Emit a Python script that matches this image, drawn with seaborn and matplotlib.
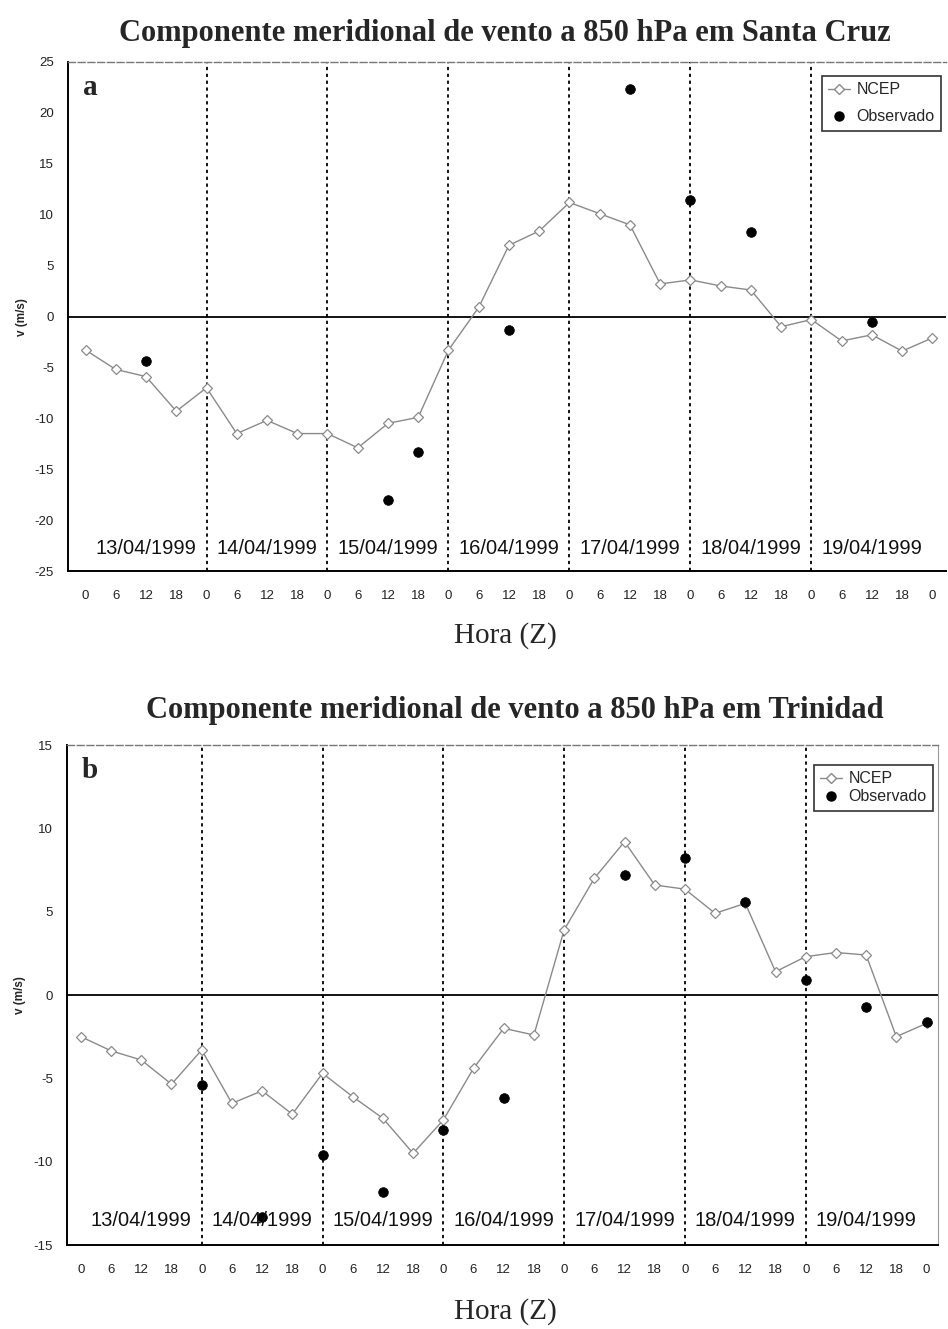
import numpy as np
import pandas as pd
import matplotlib
matplotlib.use("Agg")
import matplotlib.pyplot as plt
import seaborn as sns
from matplotlib.lines import Line2D

# ---------------- data ----------------
hour_labels = ['0', '6', '12', '18'] * 7 + ['0']
day_labels = ['13/04/1999', '14/04/1999', '15/04/1999', '16/04/1999',
              '17/04/1999', '18/04/1999', '19/04/1999']

ncep_sc = [-3.3, -5.2, -5.9, -9.3, -7.0, -11.5, -10.2, -11.5, -11.5, -12.9,
           -10.5, -9.9, -3.3, 0.9, 7.0, 8.4, 11.2, 10.1, 9.0, 3.2,
           3.6, 3.0, 2.6, -1.0, -0.3, -2.4, -1.8, -3.4, -2.1]
obs_sc = [np.nan, np.nan, -4.4, np.nan, np.nan, np.nan, np.nan, np.nan, np.nan, np.nan,
          -18.0, -13.3, np.nan, np.nan, -1.3, np.nan, np.nan, np.nan, 22.3, np.nan,
          11.4, np.nan, 8.3, np.nan, np.nan, np.nan, -0.5, np.nan, np.nan]

ncep_tr = [-2.5, -3.35, -3.9, -5.35, -3.3, -6.5, -5.75, -7.15, -4.7, -6.1,
           -7.4, -9.5, -7.5, -4.4, -2.0, -2.4, 3.9, 7.0, 9.2, 6.6,
           6.35, 4.9, 5.5, 1.4, 2.3, 2.55, 2.4, -2.5, -1.7]
obs_tr = [np.nan, np.nan, np.nan, np.nan, -5.4, np.nan, -13.3, np.nan, -9.6, np.nan,
          -11.8, np.nan, -8.1, np.nan, -6.2, np.nan, np.nan, np.nan, 7.2, np.nan,
          8.25, np.nan, 5.6, np.nan, 0.9, np.nan, -0.7, np.nan, -1.6]

titles = ['Componente meridional de vento a 850 hPa em Santa Cruz',
          'Componente meridional de vento a 850 hPa em Trinidad']
letters = ['a', 'b']

# ---------------- style ----------------
sns.set_theme(style="white")
plt.rcParams['font.family'] = ['Liberation Sans', 'DejaVu Sans']

fig = plt.figure(figsize=(9.48, 13.29), dpi=100)
W, H = 948, 1329


def px_axes(l, t, r, b):
    return fig.add_axes([l / W, 1 - b / H, (r - l) / W, (b - t) / H])


ax_a = px_axes(68, 62, 946, 571)
ax_b = px_axes(67, 745, 938, 1245)

panels = [
    dict(ax=ax_a, ncep=ncep_sc, obs=obs_sc, ylim=(-25, 25), xlim=(-0.58, 28.45),
         date_y=-22.8, title_xy=(505, 34), hora_y=636, ylab_xy=(22, 317),
         leg_anchor=(1.0, 0.982), leg_spacing=0.75, right_spine=False),
    dict(ax=ax_b, ncep=ncep_tr, obs=obs_tr, ylim=(-15, 15), xlim=(-0.46, 28.38),
         date_y=-13.5, title_xy=(515, 710), hora_y=1312, ylab_xy=(20, 995),
         leg_anchor=(1.0, 0.97), leg_spacing=0.2, right_spine=True),
]

for i, p in enumerate(panels):
    ax = p['ax']
    x = np.arange(len(hour_labels))
    df = pd.DataFrame({'x': x, 'NCEP': p['ncep'], 'Observado': p['obs']})

    # vertical day separators and zero line
    for d in range(4, len(hour_labels) - 1, 4):
        ax.axvline(d, color='black', lw=1.3, ls=(0, (1.8, 2.0)), zorder=1)
    ax.axhline(0, color='black', lw=1.3, zorder=1)

    sns.lineplot(data=df, x='x', y='NCEP', ax=ax, color='#8a8a8a', lw=1.0,
                 marker='D', markersize=5, markerfacecolor='white',
                 markeredgecolor='#8a8a8a', markeredgewidth=0.9, zorder=3,
                 legend=False)
    sns.scatterplot(data=df, x='x', y='Observado', ax=ax, color='black', s=48,
                    edgecolor='black', zorder=4, legend=False)

    ax.set_xlim(*p['xlim'])
    ax.set_ylim(*p['ylim'])
    ax.set_xticks(x)
    ax.set_xticklabels(hour_labels, fontsize=9.5, color='#222222')
    yt = np.arange(p['ylim'][0], p['ylim'][1] + 1, 5)
    ax.set_yticks(yt)
    ax.set_yticklabels([str(v) for v in yt], fontsize=9.5, color='#222222')
    ax.tick_params(axis='x', direction='in', length=3, pad=14, width=0.8)
    ax.tick_params(axis='y', direction='in', length=3, pad=10, width=0.8)
    ax.set_xlabel('')
    ax.set_ylabel('')

    for s in ['left', 'bottom']:
        ax.spines[s].set_color('black')
        ax.spines[s].set_linewidth(1.4)
    ax.spines['top'].set_color('#777777')
    ax.spines['top'].set_linewidth(1.0)
    ax.spines['top'].set_linestyle((0, (5, 2)))
    if p['right_spine']:
        ax.spines['right'].set_color('#999999')
        ax.spines['right'].set_linewidth(0.8)
    else:
        ax.spines['right'].set_visible(False)

    # day labels
    for k, lab in enumerate(day_labels):
        ax.text(2 + 4 * k, p['date_y'], lab, ha='center', va='center',
                fontsize=14.5, color='#111111', zorder=5)

    # panel letter
    ax.text(0.017, 0.95, letters[i], transform=ax.transAxes, ha='left',
            va='center', fontsize=21, fontweight='bold',
            family=['Liberation Serif'])

    # legend
    handles = [
        Line2D([], [], color='#8a8a8a', lw=1.0, marker='D', markersize=5,
               markerfacecolor='white', markeredgecolor='#8a8a8a'),
        Line2D([], [], color='black', lw=0, marker='o', markersize=6.5),
    ]
    leg = ax.legend(handles, ['NCEP', 'Observado'], loc='upper right',
                    bbox_to_anchor=p['leg_anchor'], fontsize=11.5,
                    frameon=True, fancybox=False, edgecolor='black',
                    handlelength=1.4, handletextpad=0.4, borderpad=0.4,
                    labelspacing=p['leg_spacing'], borderaxespad=0.3)
    leg.get_frame().set_linewidth(1.2)

    # titles and labels
    tx, ty = p['title_xy']
    fig.text(tx / W, 1 - ty / H, titles[i], ha='center', va='center',
             fontsize=22, fontweight='bold', family=['Liberation Serif'])
    fig.text(505 / W, 1 - p['hora_y'] / H, 'Hora (Z)', ha='center', va='center',
             fontsize=21, family=['Liberation Serif'])
    lx, ly = p['ylab_xy']
    fig.text(lx / W, 1 - ly / H, 'v (m/s)', ha='center', va='center',
             rotation=90, fontsize=8.5, fontweight='bold')

fig.savefig('out.png', dpi=100, facecolor='white')
